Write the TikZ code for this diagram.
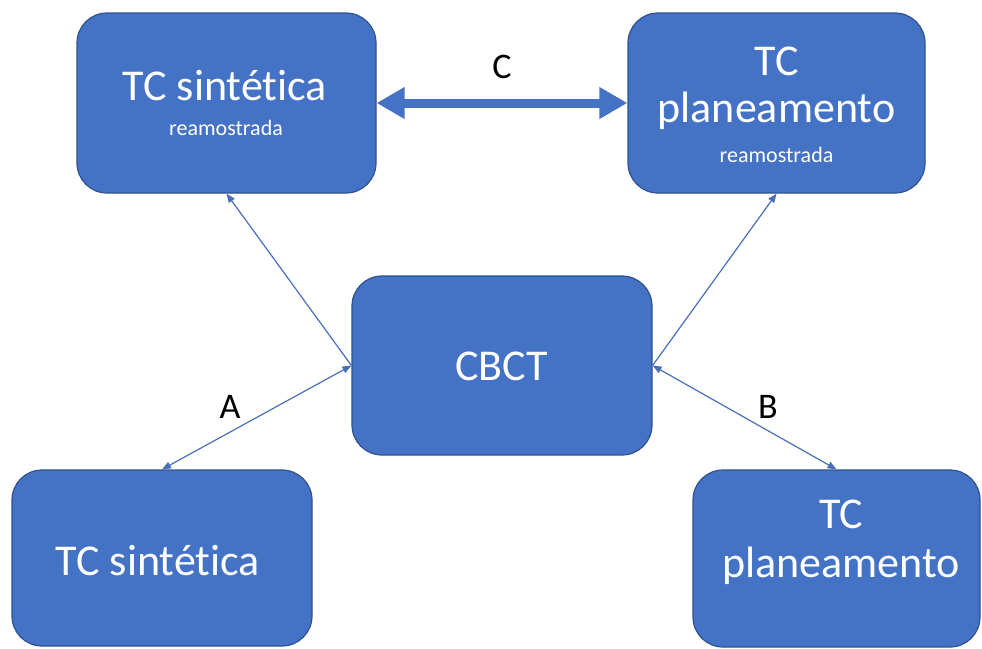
\documentclass[tikz,border=0pt]{standalone}
\usepackage{fontspec}
\setmainfont{Carlito}[Ligatures=NoCommon]
\usetikzlibrary{arrows.meta}
\definecolor{boxblue}{HTML}{4472C4}
\definecolor{boxedge}{HTML}{2F528F}
\definecolor{linkblue}{HTML}{4A6FB8}
\begin{document}
\begin{tikzpicture}[x=1pt,y=-1pt,
  blockbox/.style={draw=boxedge, line width=1.2pt, fill=boxblue, rounded corners=30pt, inner sep=0pt},
  bigtext/.style={text=white, font=\fontsize{44}{52}\selectfont, inner sep=0pt, anchor=base},
  smalltext/.style={text=white, font=\fontsize{22}{26}\selectfont, inner sep=0pt, anchor=base},
  lbl/.style={text=black, font=\fontsize{36}{42}\selectfont, inner sep=0pt, anchor=base},
  thinlink/.style={draw=linkblue, line width=1.2pt},
  tiphead/.tip={Triangle[length=9pt,width=7pt]},
  bigtip/.tip={Triangle[length=28pt,width=30pt]}
]
\useasboundingbox (0,0) rectangle (982,648);

% boxes
\node[blockbox, minimum width=299pt, minimum height=180pt] (tl) at (226.5,103) {};
\node[blockbox, minimum width=297pt, minimum height=180pt] (tr) at (776.5,103) {};
\node[blockbox, minimum width=300pt, minimum height=179pt] (cbct) at (502,365.5) {};
\node[blockbox, minimum width=300pt, minimum height=176pt] (bl) at (162,558) {};
\node[blockbox, minimum width=287pt, minimum height=177pt] (br) at (836.5,558.5) {};

% box texts
\node[bigtext] (tlt1) at (225,100) {TC sintética};
\node[smalltext] (tlt2) at (226,135) {reamostrada};
\node[bigtext] (trt1) at (776.5,75) {TC};
\node[bigtext] (trt2) at (776.5,122) {planeamento};
\node[smalltext] (trt3) at (776.5,162) {reamostrada};
\node[bigtext] (cbctt) at (501.5,380) {CBCT};
\node[bigtext] (blt) at (158,575) {TC sintética};
\node[bigtext] (brt1) at (841,528) {TC};
\node[bigtext] (brt2) at (841,577) {planeamento};

% connectors
\draw[thinlink, -tiphead] (cbct.west) -- (tl.south);
\draw[thinlink, -tiphead] (cbct.east) -- (tr.south);
\draw[thinlink, tiphead-tiphead] (cbct.west) -- (bl.north);
\draw[thinlink, tiphead-tiphead] (cbct.east) -- (br.north);
\draw[draw=boxblue, line width=9pt, bigtip-bigtip] (tl.east) -- (tr.west);

% labels
\node[lbl] (la) at (230,418) {A};
\node[lbl] (lb) at (768,418) {B};
\node[lbl] (lc) at (502,78) {C};
\end{tikzpicture}
\end{document}
